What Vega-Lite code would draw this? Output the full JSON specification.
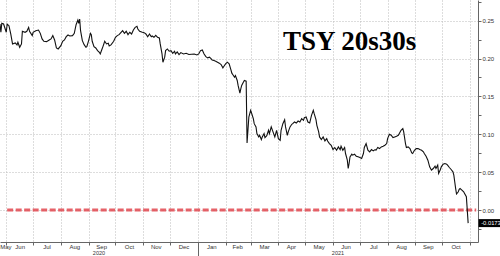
{
  "$schema": "https://vega.github.io/schema/vega-lite/v6.json",
  "width": 478,
  "height": 242,
  "autosize": "none",
  "padding": {"left": 0, "top": 0, "right": 22, "bottom": 14},
  "background": "white",
  "config": {"view": {"stroke": null}, "font": "Liberation Sans"},
  "title": {"text": "TSY 20s30s", "anchor": "start", "frame": "group", "font": "Liberation Serif", "fontSize": 27, "fontWeight": "bold", "color": "#000000", "offset": 0, "dx": 283, "dy": 78, "baseline": "alphabetic"},
  "datasets": {
    "series": [
      {"date":"2020-05-25","v":0.2456},{"date":"2020-05-26","v":0.2347},{"date":"2020-05-27","v":0.2465},{"date":"2020-05-29","v":0.2456},
      {"date":"2020-06-01","v":0.2347},{"date":"2020-06-02","v":0.2456},{"date":"2020-06-04","v":0.2434},{"date":"2020-06-06","v":0.2325},
      {"date":"2020-06-08","v":0.2193},{"date":"2020-06-11","v":0.2206},{"date":"2020-06-13","v":0.2180},{"date":"2020-06-14","v":0.2215},
      {"date":"2020-06-16","v":0.2149},{"date":"2020-06-18","v":0.2193},{"date":"2020-06-19","v":0.2360},{"date":"2020-06-22","v":0.2347},
      {"date":"2020-06-24","v":0.2360},{"date":"2020-06-26","v":0.2412},{"date":"2020-06-27","v":0.2360},{"date":"2020-06-30","v":0.2303},
      {"date":"2020-07-01","v":0.2347},{"date":"2020-07-04","v":0.2368},{"date":"2020-07-07","v":0.2377},{"date":"2020-07-09","v":0.2333},
      {"date":"2020-07-11","v":0.2259},{"date":"2020-07-13","v":0.2228},{"date":"2020-07-16","v":0.2224},{"date":"2020-07-19","v":0.2246},
      {"date":"2020-07-21","v":0.2259},{"date":"2020-07-23","v":0.2303},{"date":"2020-07-25","v":0.2246},{"date":"2020-07-27","v":0.2140},
      {"date":"2020-07-29","v":0.2127},{"date":"2020-08-01","v":0.2171},{"date":"2020-08-03","v":0.2228},{"date":"2020-08-05","v":0.2246},
      {"date":"2020-08-07","v":0.2289},{"date":"2020-08-09","v":0.2311},{"date":"2020-08-11","v":0.2298},{"date":"2020-08-14","v":0.2303},
      {"date":"2020-08-16","v":0.2333},{"date":"2020-08-18","v":0.2447},{"date":"2020-08-20","v":0.2509},{"date":"2020-08-21","v":0.2465},
      {"date":"2020-08-22","v":0.2522},{"date":"2020-08-23","v":0.2368},{"date":"2020-08-25","v":0.2237},{"date":"2020-08-27","v":0.2184},
      {"date":"2020-08-29","v":0.2149},{"date":"2020-08-30","v":0.2158},{"date":"2020-09-01","v":0.2237},{"date":"2020-09-03","v":0.2333},
      {"date":"2020-09-04","v":0.2316},{"date":"2020-09-05","v":0.2228},{"date":"2020-09-07","v":0.2158},{"date":"2020-09-09","v":0.2140},
      {"date":"2020-09-11","v":0.2105},{"date":"2020-09-13","v":0.2083},{"date":"2020-09-14","v":0.2061},{"date":"2020-09-16","v":0.2127},
      {"date":"2020-09-17","v":0.2158},{"date":"2020-09-19","v":0.2228},{"date":"2020-09-21","v":0.2193},{"date":"2020-09-23","v":0.2202},
      {"date":"2020-09-24","v":0.2167},{"date":"2020-09-26","v":0.2180},{"date":"2020-09-29","v":0.2228},{"date":"2020-10-01","v":0.2281},
      {"date":"2020-10-03","v":0.2303},{"date":"2020-10-05","v":0.2316},{"date":"2020-10-07","v":0.2342},{"date":"2020-10-09","v":0.2368},
      {"date":"2020-10-11","v":0.2333},{"date":"2020-10-13","v":0.2360},{"date":"2020-10-15","v":0.2316},{"date":"2020-10-17","v":0.2347},
      {"date":"2020-10-19","v":0.2325},{"date":"2020-10-21","v":0.2377},{"date":"2020-10-23","v":0.2412},{"date":"2020-10-25","v":0.2425},
      {"date":"2020-10-26","v":0.2390},{"date":"2020-10-28","v":0.2360},{"date":"2020-10-31","v":0.2347},{"date":"2020-11-02","v":0.2342},
      {"date":"2020-11-04","v":0.2325},{"date":"2020-11-06","v":0.2289},{"date":"2020-11-08","v":0.2325},{"date":"2020-11-10","v":0.2289},
      {"date":"2020-11-11","v":0.2298},{"date":"2020-11-13","v":0.2281},{"date":"2020-11-15","v":0.2307},{"date":"2020-11-17","v":0.2281},
      {"date":"2020-11-19","v":0.2272},{"date":"2020-11-20","v":0.2193},{"date":"2020-11-22","v":0.2061},{"date":"2020-11-23","v":0.1952},
      {"date":"2020-11-25","v":0.2018},{"date":"2020-11-26","v":0.2105},{"date":"2020-11-28","v":0.2127},{"date":"2020-11-30","v":0.2097},
      {"date":"2020-12-02","v":0.2105},{"date":"2020-12-04","v":0.2070},{"date":"2020-12-06","v":0.2097},{"date":"2020-12-07","v":0.2061},
      {"date":"2020-12-09","v":0.2088},{"date":"2020-12-11","v":0.2053},{"date":"2020-12-13","v":0.2079},{"date":"2020-12-16","v":0.2061},
      {"date":"2020-12-19","v":0.2070},{"date":"2020-12-22","v":0.2053},{"date":"2020-12-25","v":0.2057},{"date":"2020-12-28","v":0.2061},
      {"date":"2020-12-31","v":0.2048},{"date":"2021-01-02","v":0.2061},{"date":"2021-01-04","v":0.2105},{"date":"2021-01-06","v":0.2114},
      {"date":"2021-01-08","v":0.2061},{"date":"2021-01-10","v":0.2026},{"date":"2021-01-12","v":0.2009},{"date":"2021-01-14","v":0.2018},
      {"date":"2021-01-16","v":0.1996},{"date":"2021-01-17","v":0.1982},{"date":"2021-01-19","v":0.1974},{"date":"2021-01-21","v":0.1965},
      {"date":"2021-01-23","v":0.1952},{"date":"2021-01-25","v":0.1939},{"date":"2021-01-27","v":0.1921},{"date":"2021-01-29","v":0.1877},
      {"date":"2021-01-30","v":0.1895},{"date":"2021-02-01","v":0.1930},{"date":"2021-02-03","v":0.1952},{"date":"2021-02-05","v":0.1930},
      {"date":"2021-02-07","v":0.1851},{"date":"2021-02-08","v":0.1807},{"date":"2021-02-09","v":0.1789},{"date":"2021-02-11","v":0.1754},
      {"date":"2021-02-12","v":0.1776},{"date":"2021-02-14","v":0.1711},{"date":"2021-02-15","v":0.1645},{"date":"2021-02-17","v":0.1544},
      {"date":"2021-02-18","v":0.1601},{"date":"2021-02-19","v":0.1645},{"date":"2021-02-21","v":0.1689},{"date":"2021-02-22","v":0.1711},
      {"date":"2021-02-24","v":0.1702},{"date":"2021-02-25","v":0.0886},{"date":"2021-02-26","v":0.1053},{"date":"2021-02-27","v":0.1228},
      {"date":"2021-03-01","v":0.1316},{"date":"2021-03-02","v":0.1281},{"date":"2021-03-04","v":0.1206},{"date":"2021-03-05","v":0.1140},
      {"date":"2021-03-07","v":0.1097},{"date":"2021-03-08","v":0.1009},{"date":"2021-03-10","v":0.0965},{"date":"2021-03-11","v":0.0987},
      {"date":"2021-03-13","v":0.0930},{"date":"2021-03-14","v":0.0965},{"date":"2021-03-16","v":0.1009},{"date":"2021-03-17","v":0.0956},
      {"date":"2021-03-19","v":0.0982},{"date":"2021-03-21","v":0.1053},{"date":"2021-03-22","v":0.1009},{"date":"2021-03-24","v":0.1097},
      {"date":"2021-03-26","v":0.1031},{"date":"2021-03-28","v":0.0965},{"date":"2021-03-30","v":0.1053},{"date":"2021-04-01","v":0.0943},
      {"date":"2021-04-03","v":0.0921},{"date":"2021-04-04","v":0.1053},{"date":"2021-04-06","v":0.1140},{"date":"2021-04-08","v":0.1193},
      {"date":"2021-04-09","v":0.1097},{"date":"2021-04-11","v":0.0987},{"date":"2021-04-12","v":0.1031},{"date":"2021-04-14","v":0.1097},
      {"date":"2021-04-16","v":0.1132},{"date":"2021-04-17","v":0.1140},{"date":"2021-04-19","v":0.1162},{"date":"2021-04-21","v":0.1149},
      {"date":"2021-04-23","v":0.1175},{"date":"2021-04-25","v":0.1162},{"date":"2021-04-27","v":0.1206},{"date":"2021-04-29","v":0.1184},
      {"date":"2021-04-30","v":0.1219},{"date":"2021-05-02","v":0.1228},{"date":"2021-05-04","v":0.1162},{"date":"2021-05-06","v":0.1149},
      {"date":"2021-05-08","v":0.1250},{"date":"2021-05-10","v":0.1316},{"date":"2021-05-11","v":0.1272},{"date":"2021-05-13","v":0.1193},
      {"date":"2021-05-14","v":0.1118},{"date":"2021-05-16","v":0.1031},{"date":"2021-05-17","v":0.0965},{"date":"2021-05-19","v":0.0930},
      {"date":"2021-05-21","v":0.0965},{"date":"2021-05-23","v":0.0912},{"date":"2021-05-25","v":0.0943},{"date":"2021-05-26","v":0.0912},
      {"date":"2021-05-28","v":0.0877},{"date":"2021-05-30","v":0.0855},{"date":"2021-06-01","v":0.0798},{"date":"2021-06-03","v":0.0825},
      {"date":"2021-06-05","v":0.0789},{"date":"2021-06-07","v":0.0833},{"date":"2021-06-09","v":0.0798},{"date":"2021-06-10","v":0.0842},
      {"date":"2021-06-12","v":0.0789},{"date":"2021-06-14","v":0.0825},{"date":"2021-06-15","v":0.0746},{"date":"2021-06-17","v":0.0658},
      {"date":"2021-06-18","v":0.0548},{"date":"2021-06-19","v":0.0614},{"date":"2021-06-20","v":0.0702},{"date":"2021-06-22","v":0.0737},
      {"date":"2021-06-23","v":0.0724},{"date":"2021-06-25","v":0.0737},{"date":"2021-06-27","v":0.0711},{"date":"2021-06-29","v":0.0702},
      {"date":"2021-07-01","v":0.0693},{"date":"2021-07-03","v":0.0680},{"date":"2021-07-05","v":0.0746},{"date":"2021-07-06","v":0.0825},
      {"date":"2021-07-08","v":0.0877},{"date":"2021-07-10","v":0.0789},{"date":"2021-07-12","v":0.0768},{"date":"2021-07-14","v":0.0798},
      {"date":"2021-07-16","v":0.0781},{"date":"2021-07-18","v":0.0798},{"date":"2021-07-19","v":0.0789},{"date":"2021-07-21","v":0.0825},
      {"date":"2021-07-23","v":0.0811},{"date":"2021-07-25","v":0.0833},{"date":"2021-07-27","v":0.0842},{"date":"2021-07-29","v":0.0855},
      {"date":"2021-07-31","v":0.0877},{"date":"2021-08-01","v":0.0943},{"date":"2021-08-03","v":0.1000},{"date":"2021-08-05","v":0.0987},
      {"date":"2021-08-07","v":0.0956},{"date":"2021-08-09","v":0.0965},{"date":"2021-08-11","v":0.0974},{"date":"2021-08-13","v":0.0987},
      {"date":"2021-08-15","v":0.1031},{"date":"2021-08-16","v":0.1053},{"date":"2021-08-18","v":0.1075},{"date":"2021-08-19","v":0.1031},
      {"date":"2021-08-21","v":0.0877},{"date":"2021-08-22","v":0.0825},{"date":"2021-08-24","v":0.0833},{"date":"2021-08-26","v":0.0811},
      {"date":"2021-08-28","v":0.0754},{"date":"2021-08-29","v":0.0746},{"date":"2021-08-31","v":0.0789},{"date":"2021-09-02","v":0.0811},
      {"date":"2021-09-04","v":0.0811},{"date":"2021-09-06","v":0.0798},{"date":"2021-09-08","v":0.0789},{"date":"2021-09-10","v":0.0768},
      {"date":"2021-09-11","v":0.0746},{"date":"2021-09-13","v":0.0711},{"date":"2021-09-15","v":0.0658},{"date":"2021-09-17","v":0.0570},
      {"date":"2021-09-19","v":0.0526},{"date":"2021-09-21","v":0.0548},{"date":"2021-09-23","v":0.0579},{"date":"2021-09-24","v":0.0548},
      {"date":"2021-09-26","v":0.0592},{"date":"2021-09-27","v":0.0482},{"date":"2021-09-29","v":0.0535},{"date":"2021-09-30","v":0.0570},
      {"date":"2021-10-02","v":0.0605},{"date":"2021-10-04","v":0.0614},{"date":"2021-10-06","v":0.0605},{"date":"2021-10-07","v":0.0592},
      {"date":"2021-10-09","v":0.0561},{"date":"2021-10-11","v":0.0535},{"date":"2021-10-13","v":0.0504},{"date":"2021-10-14","v":0.0461},
      {"date":"2021-10-15","v":0.0373},{"date":"2021-10-16","v":0.0285},{"date":"2021-10-17","v":0.0211},{"date":"2021-10-19","v":0.0241},
      {"date":"2021-10-20","v":0.0272},{"date":"2021-10-21","v":0.0285},{"date":"2021-10-23","v":0.0263},{"date":"2021-10-25","v":0.0241},
      {"date":"2021-10-26","v":0.0219},{"date":"2021-10-28","v":0.0175},{"date":"2021-10-30","v":-0.0173}
    ],
    "zero": [
      {"date":"2020-06-02","v":0},{"date":"2021-11-08","v":0}
    ],
    "last": [
      {"date":"2021-10-30","v":-0.0173,"label":"-0.0173"}
    ]
  },
  "encoding": {
    "y": {
      "field": "v", "type": "quantitative",
      "scale": {"domain": [-0.04226, 0.27734], "nice": false, "zero": false},
      "axis": {
        "orient": "right", "title": null,
        "values": [-0.025, 0, 0.025, 0.05, 0.075, 0.1, 0.125, 0.15, 0.175, 0.2, 0.225, 0.25, 0.275],
        "labelExpr": "abs(datum.value*20 - round(datum.value*20)) < 0.01 ? format(datum.value, '.2f') : ''",
        "labelFontSize": 6, "labelColor": "#333333", "labelPadding": 1, "labelFont": "Liberation Sans",
        "tickSize": 3, "tickColor": "#666666", "domainColor": "#666666",
        "grid": true, "gridColor": "#bbbbbb", "gridDash": [1, 2],
        "gridOpacity": {"condition": {"test": "abs(datum.value*20 - round(datum.value*20)) > 0.01", "value": 0}, "value": 1},
        "labelOverlap": false
      }
    }
  },
  "layer": [
    {
      "data": {"name": "zero"},
      "mark": {"type": "line", "color": "#e2474f", "strokeWidth": 3, "strokeDash": [6, 2.5], "opacity": 0.85},
      "encoding": {
        "x": {
          "field": "date", "type": "temporal",
          "scale": {"type": "utc", "domain": [{"year": 2020, "month": 5, "date": 25, "utc": true}, {"year": 2021, "month": 11, "date": 10, "utc": true}]},
          "axis": {
            "orient": "bottom", "title": null, "grid": false, "ticks": false, "domain": false,
            "values": [
              {"year": 2020, "month": 5, "date": 31, "utc": true},
              {"year": 2020, "month": 6, "date": 16, "utc": true},
              {"year": 2020, "month": 7, "date": 16, "utc": true},
              {"year": 2020, "month": 8, "date": 16, "utc": true},
              {"year": 2020, "month": 9, "date": 15, "utc": true},
              {"year": 2020, "month": 10, "date": 16, "utc": true},
              {"year": 2020, "month": 11, "date": 15, "utc": true},
              {"year": 2020, "month": 12, "date": 16, "utc": true},
              {"year": 2021, "month": 1, "date": 16, "utc": true},
              {"year": 2021, "month": 2, "date": 14, "utc": true},
              {"year": 2021, "month": 3, "date": 16, "utc": true},
              {"year": 2021, "month": 4, "date": 15, "utc": true},
              {"year": 2021, "month": 5, "date": 16, "utc": true},
              {"year": 2021, "month": 6, "date": 15, "utc": true},
              {"year": 2021, "month": 7, "date": 16, "utc": true},
              {"year": 2021, "month": 8, "date": 16, "utc": true},
              {"year": 2021, "month": 9, "date": 15, "utc": true},
              {"year": 2021, "month": 10, "date": 16, "utc": true}
            ],
            "labelExpr": "utcFormat(datum.value, '%b')",
            "labelFontSize": 6, "labelColor": "#333333", "labelPadding": 1, "labelFont": "Liberation Sans",
            "labelFlush": false, "labelOverlap": false, "labelBound": false
          }
        }
      }
    },
    {
      "data": {"name": "series"},
      "mark": {"type": "line", "color": "#111111", "strokeWidth": 1.1},
      "encoding": {
        "x": {
          "field": "date", "type": "temporal",
          "scale": {"type": "utc", "domain": [{"year": 2020, "month": 5, "date": 25, "utc": true}, {"year": 2021, "month": 11, "date": 10, "utc": true}]},
          "axis": {
            "orient": "bottom", "title": null, "labels": false,
            "grid": true, "gridColor": "#bbbbbb", "gridDash": [1, 2],
            "ticks": true, "tickColor": "#666666", "domainColor": "#666666",
            "tickSize": {"condition": {"test": "utcmonth(datum.value) === 0", "value": 14}, "value": 3},
            "values": [
              {"year": 2020, "month": 6, "date": 1, "utc": true},
              {"year": 2020, "month": 7, "date": 1, "utc": true},
              {"year": 2020, "month": 8, "date": 1, "utc": true},
              {"year": 2020, "month": 9, "date": 1, "utc": true},
              {"year": 2020, "month": 10, "date": 1, "utc": true},
              {"year": 2020, "month": 11, "date": 1, "utc": true},
              {"year": 2020, "month": 12, "date": 1, "utc": true},
              {"year": 2021, "month": 1, "date": 1, "utc": true},
              {"year": 2021, "month": 2, "date": 1, "utc": true},
              {"year": 2021, "month": 3, "date": 1, "utc": true},
              {"year": 2021, "month": 4, "date": 1, "utc": true},
              {"year": 2021, "month": 5, "date": 1, "utc": true},
              {"year": 2021, "month": 6, "date": 1, "utc": true},
              {"year": 2021, "month": 7, "date": 1, "utc": true},
              {"year": 2021, "month": 8, "date": 1, "utc": true},
              {"year": 2021, "month": 9, "date": 1, "utc": true},
              {"year": 2021, "month": 10, "date": 1, "utc": true},
              {"year": 2021, "month": 11, "date": 1, "utc": true}
            ]
          }
        }
      }
    },
    {
      "data": {"name": "last"},
      "mark": {"type": "point", "shape": "M-1.45,-0.5H1.45V0.5H-1.45Z", "filled": true, "color": "#000000", "opacity": 1, "size": 256, "xOffset": 22},
      "encoding": {
        "x": {
          "field": "date", "type": "temporal",
          "scale": {"type": "utc", "domain": [{"year": 2020, "month": 5, "date": 25, "utc": true}, {"year": 2021, "month": 11, "date": 10, "utc": true}]},
          "axis": {
            "orient": "bottom", "title": null, "grid": false, "ticks": false, "domain": false,
            "values": [{"year": 2020, "month": 9, "date": 12, "utc": true}, {"year": 2021, "month": 6, "date": 6, "utc": true}],
            "labelExpr": "utcFormat(datum.value, '%Y')",
            "labelFontSize": 5.5, "labelColor": "#333333", "labelPadding": 8, "labelFont": "Liberation Sans",
            "labelFlush": false, "labelOverlap": false, "labelBound": false
          }
        }
      }
    },
    {
      "data": {"name": "last"},
      "mark": {"type": "text", "color": "#ffffff", "fontSize": 5.8, "font": "Liberation Sans", "align": "left", "baseline": "middle", "dx": 13},
      "encoding": {
        "x": {"field": "date", "type": "temporal", "axis": null},
        "text": {"field": "label"}
      }
    }
  ],
  "resolve": {"axis": {"x": "independent"}}
}
